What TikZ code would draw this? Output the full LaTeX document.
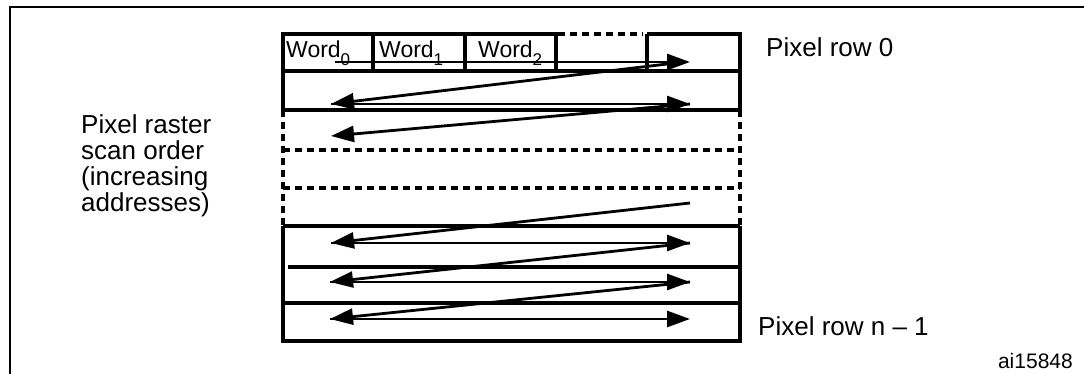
\documentclass[tikz,border=0pt]{standalone}
\usepackage{fontspec}
\setmainfont{Liberation Sans}
\usetikzlibrary{arrows.meta}
\begin{document}
\begin{tikzpicture}[x=1pt,y=-1pt,
  boxline/.style={line width=3.2pt},
  dashline/.style={line width=3.2pt, dash pattern=on 7pt off 5pt},
  frameline/.style={line width=2.6pt},
  scanarrow/.style={line width=2.8pt, -{Triangle[length=23pt,width=16pt]}},
  lbl/.style={font=\fontsize{26}{26.3}\selectfont, inner sep=0pt},
  smalllbl/.style={font=\fontsize{21}{21}\selectfont, inner sep=0pt},
  wordlbl/.style={font=\fontsize{23}{23}\selectfont, inner sep=0pt, anchor=base west},
]
\newcommand\wsub[1]{\raisebox{-8pt}{\fontsize{17}{17}\selectfont #1}}
\useasboundingbox (0,0) rectangle (1084,374);
% frame
\draw[frameline] (10,374) -- (10,7) -- (1084,7);
% row 0
\draw[boxline] (558,34) -- (283,34) -- (283,110);
\draw[dashline] (558,34) -- (643,34);
\draw[boxline] (647,34) -- (740,34) -- (740,110);
\foreach \xx in {373,465,556,647} \draw[boxline] (\xx,34) -- (\xx,71);
\draw[boxline] (283,71) -- (740,71);
\draw[boxline] (283,110) -- (740,110);
% dashed rows
\draw[dashline] (283,110) -- (283,226);
\draw[dashline] (740,110) -- (740,226);
\draw[dashline] (283,150) -- (740,150);
\draw[dashline] (283,188) -- (740,188);
% bottom rows
\draw[boxline] (283,226) -- (740,226);
\draw[boxline] (283,226) -- (283,341) -- (740,341) -- (740,226);
\draw[boxline] (288,267) -- (740,267);
\draw[boxline] (283,303) -- (740,303);
% word labels
\node[wordlbl] (w0) at (286,58) {Word\wsub{0}};
\node[wordlbl] (w1) at (379,58) {Word\wsub{1}};
\node[wordlbl] (w2) at (478,58) {Word\wsub{2}};
% scan coordinates
\coordinate (s0) at (335,62);
\coordinate (e0) at (690,62);
\coordinate (l1) at (331,104);
\coordinate (r1) at (690,104);
\coordinate (l2) at (331,136);
\coordinate (r4) at (690,203);
\coordinate (l5) at (331,243);
\coordinate (r5) at (690,243);
\coordinate (l6) at (330,282);
\coordinate (r6) at (690,282);
\coordinate (l7) at (330,319);
\coordinate (r7) at (690,319);
% scan arrows
\draw[scanarrow] (s0) -- (e0);
\draw[scanarrow] ([xshift=-6pt]e0) -- (l1);
\draw[scanarrow] (l1) -- (r1);
\draw[scanarrow] (r1) -- (l2);
\draw[scanarrow] (r4) -- (l5);
\draw[scanarrow] (l5) -- (r5);
\draw[scanarrow] (r5) -- (l6);
\draw[scanarrow] (l6) -- (r6);
\draw[scanarrow] (r6) -- (l7);
\draw[scanarrow] (l7) -- (r7);
% labels
\node[lbl, anchor=base west] (row0) at (766,57) {Pixel row 0};
\node[lbl, anchor=base west] (rown) at (758,335) {Pixel row n -- 1};
\node[lbl, anchor=north west, align=left] (scan) at (81,114) {Pixel raster\\scan order\\(increasing\\addresses)};
\node[smalllbl, anchor=base east] (id) at (1073,368) {ai15848};
\end{tikzpicture}
\end{document}
